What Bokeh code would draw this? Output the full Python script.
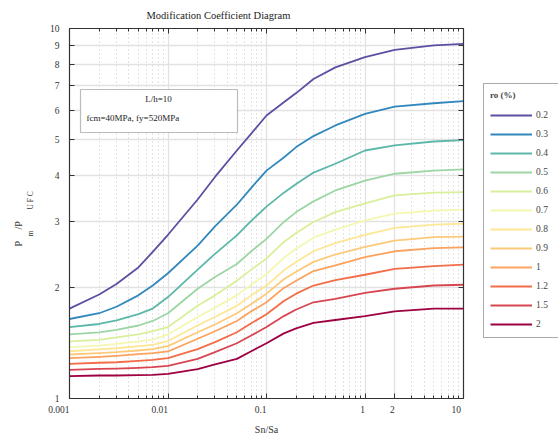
import math
from bokeh.plotting import figure
from bokeh.layouts import row
from bokeh.models import (LogAxis, FixedTicker, CustomJSTickFormatter, Legend, LegendItem,
                          BoxAnnotation, Label, Range1d)
from bokeh.core.properties import value
from bokeh.embed import file_html
from bokeh.resources import INLINE

# ---------------- data ----------------
sn_sa = [0.001, 0.002, 0.003, 0.005, 0.007, 0.01, 0.02, 0.03, 0.05, 0.07,
         0.1, 0.15, 0.2, 0.3, 0.5, 1, 2, 5, 10]
ro_labels = ["0.2", "0.3", "0.4", "0.5", "0.6", "0.7", "0.8", "0.9", "1", "1.2", "1.5", "2"]
r02 = [1.75, 1.91, 2.04, 2.26, 2.49, 2.77, 3.45, 3.97, 4.68, 5.20, 5.82, 6.32, 6.69, 7.30, 7.85, 8.37, 8.76, 9.00, 9.09]
r03 = [1.64, 1.70, 1.77, 1.90, 2.02, 2.18, 2.59, 2.92, 3.34, 3.71, 4.13, 4.48, 4.78, 5.12, 5.47, 5.88, 6.15, 6.28, 6.36]
r04 = [1.56, 1.59, 1.625, 1.69, 1.75, 1.88, 2.23, 2.46, 2.76, 3.02, 3.30, 3.60, 3.80, 4.08, 4.31, 4.68, 4.83, 4.95, 4.99]
r05 = [1.49, 1.51, 1.533, 1.575, 1.62, 1.70, 1.98, 2.13, 2.31, 2.50, 2.70, 3.00, 3.19, 3.41, 3.65, 3.88, 4.05, 4.13, 4.16]
r06 = [1.426, 1.44, 1.462, 1.49, 1.52, 1.56, 1.78, 1.90, 2.08, 2.23, 2.39, 2.65, 2.80, 3.00, 3.19, 3.37, 3.54, 3.60, 3.61]
r07 = [1.376, 1.39, 1.405, 1.426, 1.443, 1.49, 1.66, 1.76, 1.90, 2.03, 2.17, 2.40, 2.54, 2.72, 2.86, 3.03, 3.16, 3.22, 3.24]
r08 = [1.342, 1.357, 1.367, 1.385, 1.397, 1.43, 1.575, 1.66, 1.78, 1.90, 2.02, 2.22, 2.34, 2.50, 2.63, 2.77, 2.89, 2.95, 2.97]
r09 = [1.315, 1.326, 1.334, 1.348, 1.36, 1.385, 1.51, 1.585, 1.70, 1.80, 1.92, 2.10, 2.20, 2.34, 2.45, 2.57, 2.67, 2.73, 2.74]
r10 = [1.285, 1.296, 1.304, 1.318, 1.326, 1.34, 1.45, 1.52, 1.62, 1.72, 1.82, 1.99, 2.08, 2.21, 2.29, 2.41, 2.50, 2.55, 2.56]
r12 = [1.24, 1.249, 1.253, 1.264, 1.272, 1.285, 1.36, 1.42, 1.51, 1.597, 1.69, 1.835, 1.92, 2.02, 2.09, 2.16, 2.24, 2.28, 2.30]
r15 = [1.195, 1.203, 1.205, 1.21, 1.215, 1.225, 1.28, 1.335, 1.41, 1.48, 1.56, 1.67, 1.74, 1.82, 1.86, 1.93, 1.98, 2.02, 2.03]
r20 = [1.149, 1.154, 1.154, 1.156, 1.159, 1.165, 1.20, 1.236, 1.28, 1.342, 1.41, 1.50, 1.547, 1.60, 1.63, 1.67, 1.72, 1.75, 1.75]
series = [r02, r03, r04, r05, r06, r07, r08, r09, r10, r12, r15, r20]

x_ticks = [0.001, 0.01, 0.1, 1, 2, 10]
x_minor = [0.002, 0.003, 0.004, 0.005, 0.006, 0.007, 0.008, 0.009,
           0.02, 0.03, 0.04, 0.05, 0.06, 0.07, 0.08, 0.09,
           0.2, 0.3, 0.4, 0.5, 0.6, 0.7, 0.8, 0.9,
           3, 4, 5, 6, 7, 8, 9]
y_ticks = [1, 2, 3, 4, 5, 6, 7, 8, 9, 10]

colors = ["#5e4fa2", "#3288bd", "#5cb7a9", "#9dd6a4", "#d9ef9b", "#f3f7b0",
          "#fee794", "#fdca7a", "#fba25e", "#f26d48", "#d84652", "#9e0142"]

FONT = "Liberation Serif"
TXT = "#333333"
BT, BB = 28, 45  # top / bottom borders shared by all panels


def bare(fig):
    fig.axis.visible = False
    fig.grid.visible = False
    fig.outline_line_color = None


# ---------------- y-axis title strip ----------------
ylab = figure(width=40, height=443, x_range=Range1d(0, 40), y_range=Range1d(BB, 443 - BT),
              output_backend="svg", toolbar_location=None,
              min_border_left=0, min_border_right=0, min_border_top=BT, min_border_bottom=BB)
bare(ylab)
ylab_parts = ["P", "m", "/P", "U F C"]
ylab.text(x=[18, 29.5, 18, 30], y=[443 - 246, 443 - 236, 443 - 229, 443 - 209],
          text=ylab_parts, angle=math.pi / 2, text_align="left", text_baseline="middle",
          text_font=value(FONT), text_font_size=["10px", "7.5px", "10px", "7.5px"],
          text_color=TXT)

# ---------------- main plot ----------------
p = figure(width=430, height=443, x_axis_type="log", y_axis_type="log",
           x_range=Range1d(0.001, 10), y_range=Range1d(1, 10),
           output_backend="svg", toolbar_location=None,
           min_border_left=29, min_border_right=7, min_border_top=BT, min_border_bottom=BB,
           background_fill_color="white", border_fill_color="white")
p.outline_line_color = "#333333"
p.outline_line_width = 1

p.title.text = "Modification Coefficient Diagram"
p.title.align = "left"
p.title.offset = 77
p.title.text_font = FONT
p.title.text_font_style = "normal"
p.title.text_font_size = "10.5px"
p.title.text_color = "#222222"
p.title.standoff = 15

p.xaxis.ticker = FixedTicker(ticks=x_ticks, minor_ticks=x_minor)
p.yaxis.ticker = FixedTicker(ticks=y_ticks, minor_ticks=[])
# x labels end at their tick (padding of equal width on the right)
p.xaxis.formatter = CustomJSTickFormatter(code="""
const s = tick.toString();
let pad = '';
for (const ch of s) { pad += (ch == '.') ? '\\u2008' : '\\u2007'; }
return s + pad;
""")
p.yaxis.formatter = CustomJSTickFormatter(code="return tick.toString()")


def style_axis(ax, minor=True):
    ax.major_tick_in = 5
    ax.major_tick_out = 0
    ax.minor_tick_in = 3 if minor else 0
    ax.minor_tick_out = 0
    ax.axis_line_color = "#333333"
    ax.axis_line_width = 1.2
    ax.major_tick_line_color = "#333333"
    ax.minor_tick_line_color = "#333333"
    ax.major_label_text_font = FONT
    ax.major_label_text_font_size = "9.5px"
    ax.major_label_text_color = TXT


def blank_axis(ax):
    ax.formatter = CustomJSTickFormatter(code="return ''")
    ax.major_label_text_font_size = "0px"
    ax.major_label_standoff = 0


style_axis(p.xaxis[0])
style_axis(p.yaxis[0], minor=False)
p.xaxis.major_label_standoff = 6
p.yaxis.major_label_standoff = 10
p.xaxis.axis_label = "Sn/Sa"
p.xaxis.axis_label_text_font = FONT
p.xaxis.axis_label_text_font_style = "normal"
p.xaxis.axis_label_text_font_size = "10px"
p.xaxis.axis_label_text_color = TXT
p.xaxis.axis_label_standoff = 6

top_ax = LogAxis(ticker=FixedTicker(ticks=x_ticks, minor_ticks=x_minor))
right_ax = LogAxis(ticker=FixedTicker(ticks=y_ticks, minor_ticks=[]))
style_axis(top_ax)
style_axis(right_ax, minor=False)
blank_axis(top_ax)
blank_axis(right_ax)
p.add_layout(top_ax, "above")
p.add_layout(right_ax, "right")

p.xgrid.grid_line_color = "#e2e2e2"
p.xgrid.grid_line_width = 1.3
p.xgrid.minor_grid_line_color = "#c8c8c8"
p.xgrid.minor_grid_line_dash = "1 3"
p.ygrid.grid_line_color = "#e2e2e2"
p.ygrid.grid_line_width = 1.3

for ys, c in zip(series, colors):
    p.line(sn_sa, ys, line_color=c, line_width=1.8, line_join="round")

# annotation box (inside the frame)
p.add_layout(BoxAnnotation(left=11, right=168, bottom=266, top=309,
                           left_units="screen", right_units="screen",
                           bottom_units="screen", top_units="screen",
                           fill_color="white", fill_alpha=1, line_color="#222222", line_width=1.2))
p.add_layout(Label(x=89, y=300, x_units="screen", y_units="screen", text="L/h=10",
                   text_align="center", text_baseline="middle", text_font=FONT,
                   text_font_size="9px", text_color="#222222"))
p.add_layout(Label(x=17, y=281, x_units="screen", y_units="screen", text="fcm=40MPa, fy=520MPa",
                   text_align="left", text_baseline="middle", text_font=FONT,
                   text_font_size="9px", text_color="#222222"))

# ---------------- legend strip ----------------
# same series drawn here, but outside this strip's visible range: only their legend glyphs show
lf = figure(width=88, height=443, x_range=Range1d(0, 1), y_range=Range1d(-2, -1),
            output_backend="svg", toolbar_location=None,
            min_border_left=0, min_border_right=0, min_border_top=BT, min_border_bottom=BB)
bare(lf)
items = []
for lab, ys, c in zip(ro_labels, series, colors):
    r = lf.line(sn_sa, ys, line_color=c, line_width=1.8)
    items.append(LegendItem(label=lab, renderers=[r]))
legend = Legend(items=items, location=(13, 60), title="ro (%)",
                title_text_font=FONT, title_text_font_style="bold", title_text_font_size="9px",
                title_standoff=8,
                label_text_font=FONT, label_text_font_size="9.5px", label_text_baseline="bottom",
                glyph_width=42, glyph_height=14, label_height=14, spacing=5, label_standoff=4,
                padding=6, margin=0, border_line_color="#555555", border_line_width=1.2,
                background_fill_color="white", background_fill_alpha=1)
lf.add_layout(legend, "center")
lf.add_layout(BoxAnnotation(left=13, right=84, bottom=286, top=287,
                            left_units="screen", right_units="screen",
                            bottom_units="screen", top_units="screen",
                            fill_color="#777777", fill_alpha=1, line_color=None))

layout = row(ylab, p, lf)
open("out.html", "w").write(file_html(layout, INLINE))
